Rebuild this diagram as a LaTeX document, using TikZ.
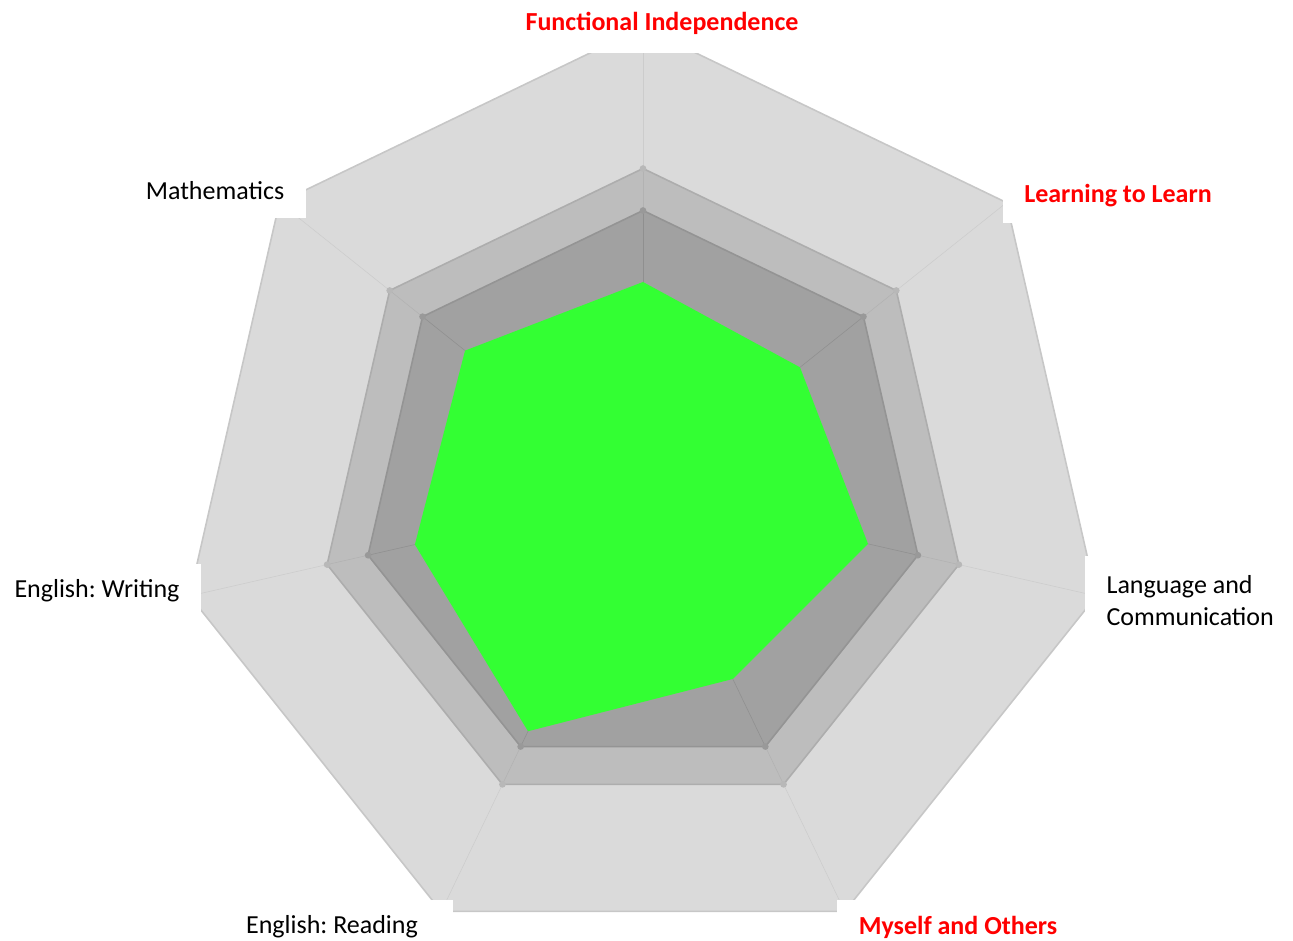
\documentclass[tikz,border=0pt]{standalone}
\usepackage{fontspec}
\setmainfont{Carlito}
\frenchspacing
\definecolor{outerband}{HTML}{DADADA}
\definecolor{midband}{HTML}{BDBDBD}
\definecolor{innerband}{HTML}{A1A1A1}
\definecolor{score}{HTML}{33FF33}
\begin{document}
\begin{tikzpicture}[x=0.75pt, y=0.75pt,
  lab/.style = {fill=white, inner xsep=16pt, minimum height=41pt, font=\fontsize{19.5}{24}\selectfont},
  hot/.style = {lab, text=red, font=\fontsize{19.5}{24}\selectfont\bfseries}]
\useasboundingbox (-643,-448.5) rectangle (650,492.5);
\coordinate (c) at (0,0);
\foreach \k in {0,...,6} {
  \coordinate (o\k) at (90-\k*360/7:465);
  \coordinate (m\k) at (90-\k*360/7:324);
  \coordinate (i\k) at (90-\k*360/7:282);
}
% rings
\filldraw[fill=outerband, draw=black!22, line width=1.2pt] (o0) -- (o1) -- (o2) -- (o3) -- (o4) -- (o5) -- (o6) -- cycle;
\filldraw[fill=midband, draw=black!32, line width=1.2pt] (m0) -- (m1) -- (m2) -- (m3) -- (m4) -- (m5) -- (m6) -- cycle;
\filldraw[fill=innerband, draw=black!42, line width=1.2pt] (i0) -- (i1) -- (i2) -- (i3) -- (i4) -- (i5) -- (i6) -- cycle;
\foreach \k in {0,...,6} {
  \draw[black!20] (o\k) -- (m\k);
  \draw[black!30] (m\k) -- (i\k);
  \draw[black!44] (i\k) -- (c);
  \fill[black!28] (m\k) circle (2.5pt);
  \fill[black!40] (i\k) circle (2.5pt);
}
% scores
\fill[score] (90:210.5) -- (38.571:200.8) -- (-12.857:230.8) -- (-64.286:207) -- (-115.714:265) -- (-167.143:234) -- (141.429:227.6) -- cycle;
% labels
\node[hot, minimum height=45pt] (fi) at (19,469.5) {Functional Independence};
\node[hot] (ll) at (475,296.5) {Learning to Learn};
\node[lab, align=left, anchor=west, minimum height=68pt] (lc) at (442,-108.5) {Language and\\Communication};
\node[hot] (mo) at (315,-434.5) {Myself and Others};
\node[lab, inner xsep=26pt] (er) at (-311,-434.5) {English: Reading};
\node[lab] (ew) at (-546,-98.5) {English: Writing};
\node[lab] (ma) at (-428,301.5) {Mathematics};
\end{tikzpicture}
\end{document}
